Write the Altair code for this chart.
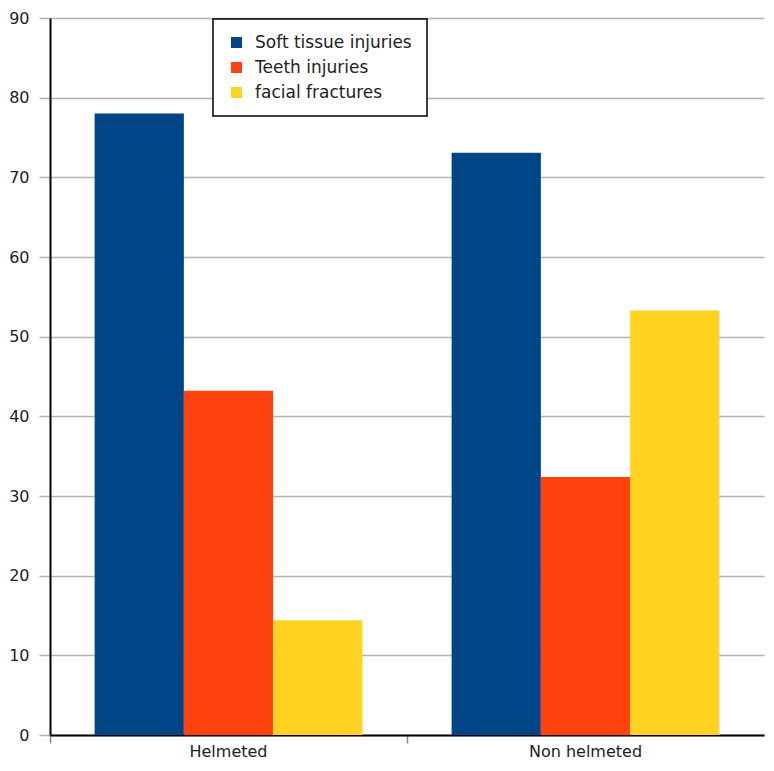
import altair as alt
import pandas as pd

groups = ["Helmeted", "Non helmeted"]
series = ["Soft tissue injuries", "Teeth injuries", "facial fractures"]
values = {
    "Soft tissue injuries": [78, 73.1],
    "Teeth injuries": [43.2, 32.4],
    "facial fractures": [14.4, 53.3],
}
colors = ["#004586", "#ff420e", "#ffd320"]
y_ticks = [0, 10, 20, 30, 40, 50, 60, 70, 80, 90]

rows = []
for s in series:
    for g, v in zip(groups, values[s]):
        rows.append({"group": g, "series": s, "value": v})
df = pd.DataFrame(rows)

FONT = "DejaVu Sans"

chart = alt.Chart(df).mark_bar().encode(
    x=alt.X("group:N", sort=groups, title=None,
            scale=alt.Scale(paddingInner=0, paddingOuter=0),
            axis=alt.Axis(labelAngle=0, bandPosition=0, domainColor="#000000",
                          domainWidth=2, tickColor="#888888", tickSize=8,
                          tickWidth=1.5, labelFontSize=16, labelFont=FONT,
                          labelColor="#222222", labelPadding=0, grid=False)),
    xOffset=alt.XOffset("series:N", sort=series,
                        scale=alt.Scale(paddingInner=0, paddingOuter=0.5)),
    y=alt.Y("value:Q", title=None,
            scale=alt.Scale(domain=[0, 90], nice=False),
            axis=alt.Axis(values=y_ticks, domainColor="#000000", domainWidth=2,
                          tickColor="#b3b3b3", tickSize=11, tickWidth=1.5,
                          gridColor="#b3b3b3", gridWidth=1.5,
                          labelFontSize=16, labelFont=FONT, labelColor="#222222",
                          labelPadding=10)),
    color=alt.Color("series:N", sort=series,
                    scale=alt.Scale(domain=series, range=colors),
                    legend=alt.Legend(title=None, orient="none", legendX=163, legendY=1,
                                      fillColor="#ffffff", strokeColor="#000000",
                                      padding=15, symbolType="square", symbolSize=120,
                                      symbolStrokeWidth=0, labelFont=FONT,
                                      labelFontSize=17, labelColor="#222222",
                                      rowPadding=7, labelOffset=10)),
).properties(
    width=714, height=717,
    autosize=alt.AutoSizeParams(type="none"),
    padding={"left": 42, "top": 10, "right": 2, "bottom": 24},
).configure_view(stroke=None).configure_legend(strokeWidth=1.5)

chart.save("out.html", embed_options={"renderer": "svg", "actions": False})
